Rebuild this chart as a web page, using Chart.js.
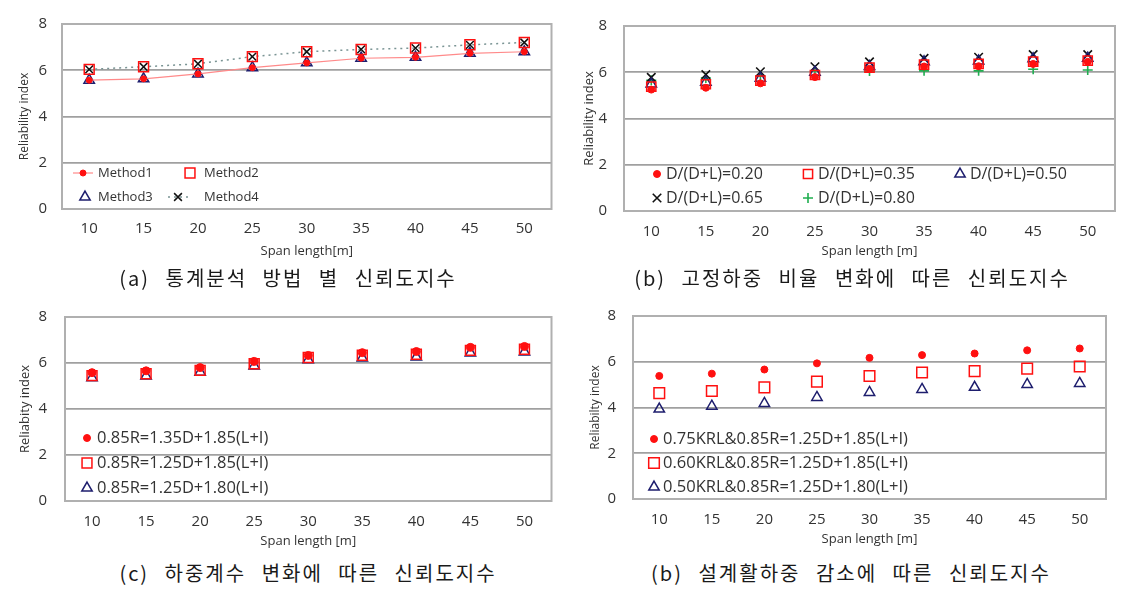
<!DOCTYPE html>
<html><head><meta charset="utf-8">
<script src="https://cdn.jsdelivr.net/npm/chart.js@4.4.0/dist/chart.umd.min.js"></script>
<style>
html,body{margin:0;padding:0;background:#fff}
body{width:1137px;height:592px;position:relative;overflow:hidden}
canvas{position:absolute}
.cap{position:absolute;width:600px;text-align:center;font-family:"Noto Sans CJK KR";font-size:20px;line-height:24px;color:#1a1a1a;white-space:pre;letter-spacing:2px;word-spacing:9px}
</style></head><body>
<canvas id="ca" width="560" height="268" style="left:0;top:0"></canvas>
<canvas id="cb" width="577" height="268" style="left:560px;top:0"></canvas>
<canvas id="cc" width="560" height="268" style="left:0;top:290px"></canvas>
<canvas id="cd" width="577" height="268" style="left:560px;top:290px"></canvas>
<div class="cap" style="left:-12px;top:266px">(a) 통계분석 방법 별 신뢰도지수</div>
<div class="cap" style="left:552px;top:266px">(b) 고정하중 비율 변화에 따른 신뢰도지수</div>
<div class="cap" style="left:8px;top:561px">(c) 하중계수 변화에 따른 신뢰도지수</div>
<div class="cap" style="left:551px;top:561px">(b) 설계활하중 감소에 따른 신뢰도지수</div>
<script>
// ---- data ----
const spans = ['10','15','20','25','30','35','40','45','50'];
const yMin = 0, yMax = 8, yStep = 2;

// (a) statistical analysis methods
const method1 = [5.57,5.63,5.84,6.11,6.32,6.52,6.56,6.73,6.80];
const method2 = [6.04,6.15,6.28,6.59,6.80,6.90,6.96,7.10,7.20];
const method3 = [5.57,5.63,5.84,6.11,6.32,6.52,6.56,6.73,6.80];
const method4 = [6.04,6.15,6.28,6.59,6.80,6.90,6.96,7.10,7.20];

// (b) dead load ratio D/(D+L)
const ratio020 = [5.25,5.33,5.52,5.79,6.15,6.25,6.26,6.36,6.45];
const ratio035 = [5.38,5.48,5.64,5.88,6.20,6.33,6.36,6.46,6.50];
const ratio050 = [5.49,5.57,5.74,6.00,6.25,6.45,6.49,6.58,6.61];
const ratio065 = [5.78,5.90,6.02,6.24,6.45,6.60,6.65,6.76,6.76];
const ratio080 = [5.65,5.75,5.84,6.06,6.05,6.06,6.06,6.13,6.10];

// (c) load factors
const lf135_185 = [5.58,5.66,5.80,6.07,6.33,6.45,6.50,6.68,6.72];
const lf125_185 = [5.45,5.53,5.68,5.97,6.24,6.34,6.38,6.55,6.60];
const lf125_180 = [5.36,5.43,5.60,5.87,6.14,6.22,6.26,6.44,6.48];

// (d) design live load reduction
const krl075 = [5.38,5.48,5.66,5.93,6.17,6.29,6.36,6.50,6.58];
const krl060 = [4.63,4.72,4.88,5.13,5.38,5.53,5.59,5.70,5.79];
const krl050 = [3.93,4.06,4.18,4.44,4.66,4.79,4.88,5.01,5.05];

// ---- styling ----
const RED = '#ff1010', NAVY = '#1e1e6e', TXT = '#333333', GRID = '#a0a0a0';
const FONT = '"Open Sans"';

function drawMarker(ctx, style, x, y, r, fill, stroke, lw) {
  ctx.save();
  ctx.fillStyle = fill; ctx.strokeStyle = stroke; ctx.lineWidth = lw;
  ctx.beginPath();
  if (style === 'circle') { ctx.arc(x, y, r, 0, Math.PI*2); ctx.closePath(); ctx.fill(); if (lw>0) ctx.stroke(); }
  else if (style === 'rect') { const s = Math.SQRT1_2*r; ctx.rect(x-s, y-s, 2*s, 2*s); ctx.fill(); ctx.stroke(); }
  else if (style === 'triangle') {
    let a = 0; ctx.moveTo(x + Math.sin(a)*r, y - Math.cos(a)*r);
    a += 2*Math.PI/3; ctx.lineTo(x + Math.sin(a)*r, y - Math.cos(a)*r);
    a += 2*Math.PI/3; ctx.lineTo(x + Math.sin(a)*r, y - Math.cos(a)*r);
    ctx.closePath(); ctx.fill(); ctx.stroke();
  } else if (style === 'crossRot' || style === 'cross') {
    const a = style === 'crossRot' ? Math.PI/4 : 0;
    const dx = Math.cos(a)*r, dy = Math.sin(a)*r;
    ctx.moveTo(x-dx, y-dy); ctx.lineTo(x+dx, y+dy);
    ctx.moveTo(x+dy, y-dx); ctx.lineTo(x-dy, y+dx);
    ctx.stroke();
  }
  ctx.restore();
}

const frame = {
  id: 'frame',
  beforeDatasetsDraw(chart) {
    const {ctx, chartArea: a} = chart;
    ctx.save(); ctx.strokeStyle = '#b0b0b0'; ctx.lineWidth = 2;
    ctx.strokeRect(a.left, a.top, a.right - a.left, a.bottom - a.top);
    ctx.restore();
  }
};

const inLegend = {
  id: 'inLegend',
  afterDatasetsDraw(chart, args, opts) {
    const ctx = chart.ctx;
    (opts.items || []).forEach(it => {
      const ds = chart.data.datasets[it.ds];
      if (it.line) {
        ctx.save(); ctx.strokeStyle = ds.borderColor; ctx.lineWidth = ds.borderWidth;
        ctx.setLineDash(ds.borderDash || []); ctx.beginPath();
        ctx.moveTo(it.line[0], it.y); ctx.lineTo(it.line[1], it.y); ctx.stroke(); ctx.restore();
      }
      drawMarker(ctx, ds.pointStyle, it.x, it.y, it.r || ds.pointRadius, ds.pointBackgroundColor, ds.pointBorderColor, ds.pointBorderWidth);
      ctx.save(); ctx.font = opts.font; ctx.fillStyle = TXT; ctx.textBaseline = 'middle'; ctx.textAlign = 'left';
      ctx.fillText(ds.label, it.tx, it.y); ctx.restore();
    });
  }
};

function ds(label, data, style, r, color, fill, lw, extra) {
  return Object.assign({label, data, pointStyle: style, pointRadius: r, pointHoverRadius: r,
    pointBorderColor: color, pointBackgroundColor: fill, pointBorderWidth: lw,
    borderColor: color, backgroundColor: fill, showLine: false}, extra || {});
}

function mk(id, w, h, g, datasets, legendItems, legendFont) {
  new Chart(document.getElementById(id), {
    type: 'line',
    data: { labels: spans, datasets },
    plugins: [frame, inLegend],
    options: {
      responsive: false, animation: false, devicePixelRatio: 1,
      layout: { padding: { left: 0, top: g.T, right: w - g.R, bottom: h - g.B - g.xh } },
      plugins: { legend: { display: false }, tooltip: { enabled: false },
        inLegend: { items: legendItems, font: legendFont } },
      scales: {
        x: { type: 'category', offset: true,
          grid: { display: false, drawTicks: false }, border: { display: false },
          ticks: { font: { family: FONT, size: 15 }, color: TXT, padding: g.xty - g.B - 9, maxRotation: 0, autoSkip: false },
          title: { display: true, text: g.xt, font: { family: FONT, size: 13 }, color: TXT,
            padding: { top: 0, bottom: g.B + g.xh - 7.8 - g.xtity } },
          afterFit: s => { s.height = g.xh; } },
        y: { min: yMin, max: yMax,
          grid: { color: GRID, lineWidth: 1.8, drawTicks: false }, border: { display: false },
          ticks: { stepSize: yStep, font: { family: FONT, size: 15 }, color: TXT, padding: g.L - g.ytr },
          title: { display: true, text: g.yt, font: { family: FONT, size: g.ytfs }, color: TXT,
            padding: { top: g.ytx - g.ytfs * 0.6, bottom: 0 } },
          afterFit: s => { s.width = g.L; } }
      }
    }
  });
}

// (a)
mk('ca', 560, 268,
  {L:62, R:552, T:14, B:209, xh:50, ytr:47, ytx:25, ytfs:12, yt:'Reliability index', xt:'Span length[m]', xty:229, xtity:251},
  [
    ds('Method1', method1, 'circle', 3, RED, RED, 1, {showLine: true, borderColor: '#ff8a8a', borderWidth: 1.2}),
    ds('Method2', method2, 'rect', 7, RED, 'rgba(0,0,0,0)', 1.5),
    ds('Method3', method3, 'triangle', 6, NAVY, 'rgba(0,0,0,0)', 1.5),
    ds('Method4', method4, 'crossRot', 5.5, '#111', '#111', 1.5, {showLine: true, borderColor: '#7a9494', borderWidth: 1.5, borderDash: [2, 4]})
  ],
  [{ds:0,x:83,y:173,tx:98,line:[73,93]},{ds:1,x:190,y:173,tx:204},{ds:2,x:85,y:197,tx:98},{ds:3,x:178,y:197,tx:204,line:[168,188]}],
  '13px "Open Sans"');

// (b)
mk('cb', 577, 268,
  {L:64, R:555, T:15, B:211, xh:48, ytr:47, ytx:29, ytfs:13, yt:'Reliability index', xt:'Span length [m]', xty:232, xtity:251},
  [
    ds('D/(D+L)=0.20', ratio020, 'circle', 3.5, RED, RED, 1),
    ds('D/(D+L)=0.35', ratio035, 'rect', 6.5, RED, 'rgba(0,0,0,0)', 1.5),
    ds('D/(D+L)=0.50', ratio050, 'triangle', 6, NAVY, 'rgba(0,0,0,0)', 1.5),
    ds('D/(D+L)=0.65', ratio065, 'crossRot', 6, '#111', '#111', 1.6),
    ds('D/(D+L)=0.80', ratio080, 'cross', 5, '#1fae4f', '#1fae4f', 1.6)
  ],
  [{ds:0,x:97,y:174,tx:106},{ds:1,x:248,y:174,tx:258},{ds:2,x:400,y:174,tx:410},{ds:3,x:97,y:198,tx:106},{ds:4,x:248,y:198,tx:258}],
  '16px "Open Sans"');

// (c)
mk('cc', 560, 268,
  {L:65, R:552, T:14, B:211, xh:48, ytr:47, ytx:25, ytfs:13, yt:'Reliabity index', xt:'Span length [m]', xty:232, xtity:251},
  [
    ds('0.85R=1.35D+1.85(L+I)', lf135_185, 'circle', 4, RED, RED, 1),
    ds('0.85R=1.25D+1.85(L+I)', lf125_185, 'rect', 7, RED, 'rgba(0,0,0,0)', 1.5),
    ds('0.85R=1.25D+1.80(L+I)', lf125_180, 'triangle', 6, NAVY, 'rgba(0,0,0,0)', 1.5)
  ],
  [{ds:0,x:87,y:148,tx:97,r:3.5},{ds:1,x:87,y:173,tx:97},{ds:2,x:87,y:198,tx:97}],
  '16.5px "Open Sans"');

// (d)
mk('cd', 577, 268,
  {L:73, R:546, T:16, B:209, xh:48, ytr:56, ytx:36, ytfs:12, yt:'Reliabilty index', xt:'Span length [m]', xty:230, xtity:249},
  [
    ds('0.75KRL&0.85R=1.25D+1.85(L+I)', krl075, 'circle', 3.5, RED, RED, 1),
    ds('0.60KRL&0.85R=1.25D+1.85(L+I)', krl060, 'rect', 7.5, RED, 'rgba(0,0,0,0)', 1.5),
    ds('0.50KRL&0.85R=1.25D+1.80(L+I)', krl050, 'triangle', 6, NAVY, 'rgba(0,0,0,0)', 1.5)
  ],
  [{ds:0,x:94,y:149,tx:103},{ds:1,x:94,y:173,tx:103},{ds:2,x:94,y:197,tx:103}],
  '16.5px "Open Sans"');
</script>
</body></html>
